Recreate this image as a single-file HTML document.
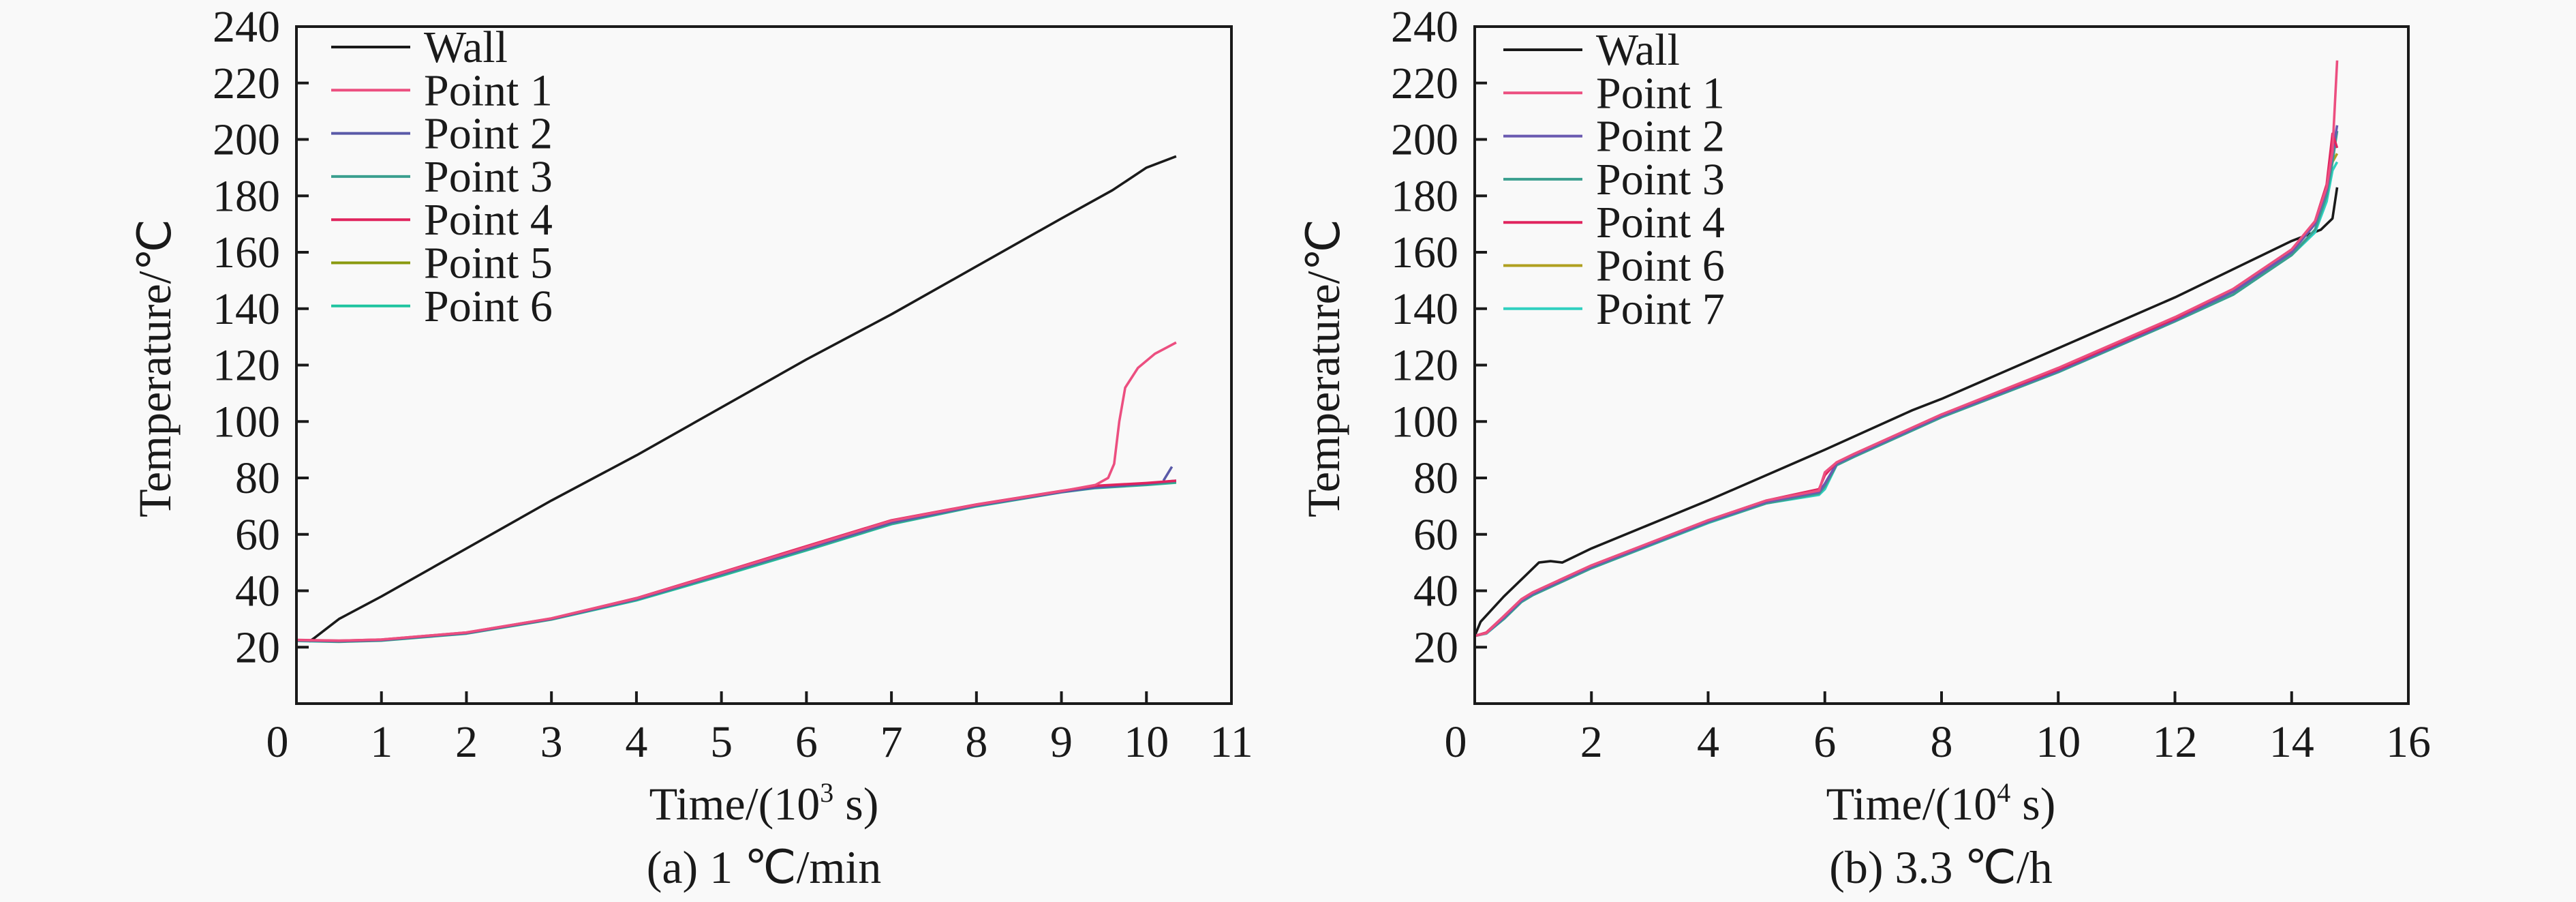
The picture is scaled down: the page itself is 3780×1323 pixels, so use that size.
<!DOCTYPE html>
<html><head><meta charset="utf-8"><style>
html,body{margin:0;padding:0;background:#f9f9f9;}
svg{display:block;}
text{font-family:"Liberation Serif","Times New Roman",serif;fill:#1a1a1a;}
</style></head><body>
<svg id="fig" width="3780" height="1323" viewBox="0 0 3780 1323" xmlns="http://www.w3.org/2000/svg" font-family="Liberation Serif, serif"></svg>
<script>
// ---- Chart (a) data: time in 10^3 s, temperature in °C ----
const aWallX = [0.15,0.2,0.5,1,2,3,4,5,6,7,8,9,9.6,10,10.35];
const aWallY = [22,23,30,38,55,72,88,105,122,138,155,172,182,190,194];
const aPtX = [0,0.5,1,2,3,4,5,6,7,8,9,9.4,10,10.35];
const aPt1Y = [22.5,22.3,22.7,25.2,30.2,37.3,46.3,55.5,64.8,70.5,75.3,77.5,78.5,79];
const aPt1TailX = [9.4,9.55,9.62,9.68,9.75,9.9,10.1,10.35];
const aPt1TailY = [77.5,80,85,100,112,119,124,128];
const aPt2Y = [22.4,22.1,22.5,25,30,37,46,55,64.2,70.2,75,76.6,78,79];
const aPt2TailX = [10.2,10.3];
const aPt2TailY = [79,84];
const aPt3Y = [22.3,22,22.4,24.9,29.9,36.8,45.6,54.6,63.8,70,75,76.5,77.6,78.5];
const aPt4Y = [22.6,22.3,22.7,25.2,30.2,37.4,46.5,55.8,65,70.6,75.4,77.2,78.2,79];
const aPt5Y = [22.4,22,22.4,24.9,29.9,36.9,45.7,54.8,64,70.1,75,76.6,77.7,78.5];
const aPt6Y = [22.2,21.9,22.3,24.8,29.8,36.6,45.3,54.3,63.6,69.9,74.9,76.4,77.5,78.3];
const aXTicks = [0,1,2,3,4,5,6,7,8,9,10,11];
// ---- Chart (b) data: time in 10^4 s ----
const bWallX = [0,0.1,0.5,0.9,1.1,1.3,1.5,2,4,6,7.5,8,10,12,13.5,14,14.5,14.7,14.78];
const bWallY = [24,29,38,46,50,50.5,50,55,72,90,104,108,126,144,159,164,168,172,183];
const bPtX = [0,0.2,0.5,0.8,1,2,4,5,5.9,6.0,6.2,6.5,8,10,12,13,14,14.4,14.6,14.7,14.78];
const bPt1Y = [24,25,31,37,39.5,49,65,72,75.5,82,85.5,88.5,102.5,119,137,147,161,171,183,196,228];
const bPt2Y = [24,25,30.5,36.5,39,48.5,64.5,71.5,75,78,85,88,102,118,136,146,160,170,182,195,205];
const bPt3Y = [24,25,30,36,38.5,48,64.2,71,74.5,77,84.5,87.5,101.5,117.5,135.5,145,159,168,180,192,203];
const bPt4Y = [24,25.2,31,37,39.5,49,65,72,76,81,85.5,88.5,102.5,118.5,136.5,147,161,171,184,202,197];
const bPt6Y = [24,25,30.5,36.5,39,48.5,64.5,71.5,75,77.5,85,88,102,118,136,146,160,170,181,192,195];
const bPt7Y = [24,24.8,30,36,38.5,48,64,71,74,76,84.5,87.5,101.5,117.5,135.5,145,159,167,178,189,192];
const bXTicks = [0,2,4,6,8,10,12,14,16];
const yTicks = [20,40,60,80,100,120,140,160,180,200,220,240];

const NS = "http://www.w3.org/2000/svg";
const svg = document.getElementById('fig');
function mk(tag, attrs, parent){const e=document.createElementNS(NS,tag);for(const k in attrs)e.setAttribute(k,attrs[k]);if(tag==='text'){e.setAttribute('font-family','Liberation Serif, serif');}(parent||svg).appendChild(e);return e;}

const Y0=1032, Y1=39;
function yS(v){return Y0-(v/240)*(Y0-Y1);}

function panel(p){
  const g=mk('g',{});
  
  
  const xS=v=>p.left+(v-p.xmin)/(p.xmax-p.xmin)*(p.right-p.left);
  p.series.forEach(s=>{
    const d=s.x.map((xv,i)=>(i?'L':'M')+xS(xv).toFixed(1)+','+yS(s.y[i]).toFixed(1)).join(' ');
    const path=mk('path',{d:d,fill:'none',stroke:s.color,'stroke-width':3.6,'stroke-linejoin':'round'},g);
    
    
  });
  const fr=mk('rect',{x:p.left,y:Y1,width:p.right-p.left,height:Y0-Y1,fill:'none',stroke:'#1a1a1a','stroke-width':4},g);
  
  
  yTicks.forEach(t=>{
    const y=yS(t);
    if(t<240) mk('line',{x1:p.left,x2:p.left+18,y1:y,y2:y,stroke:'#1a1a1a','stroke-width':4},g);
    const tx=mk('text',{x:p.left-24,y:y+22,'text-anchor':'end','font-size':66},g);
    tx.textContent=t;
    
    
  });
  p.xticks.forEach(t=>{
    const x=xS(t);
    if(t>p.xmin && t<p.xmax) mk('line',{x1:x,x2:x,y1:Y0,y2:Y0-18,stroke:'#1a1a1a','stroke-width':4},g);
    const tx=mk('text',{x:t===p.xmin?x-28:x,y:1110,'text-anchor':'middle','font-size':66},g);
    tx.textContent=t;
    
    
  });
  p.legend.forEach((l,i)=>{
    const y=p.legY+i*63.3;
    const ln=mk('line',{x1:p.legX,x2:p.legX+116,y1:y,y2:y,stroke:l[1],'stroke-width':4},g);
    
    
    const tx=mk('text',{x:p.legX+136,y:y+22,'font-size':66},g);
    tx.textContent=l[0];
    
    
  });
  const yt=mk('text',{transform:`translate(${p.ytX},540) rotate(-90)`,'text-anchor':'middle','font-size':68},g);
  yt.textContent='Temperature/℃';
  
  
  const xt=mk('text',{x:p.titleX,y:1202,'text-anchor':'middle','font-size':68},g);
  xt.innerHTML='Time/(10<tspan font-size="40" dy="-26">'+p.exp+'</tspan><tspan dy="26"> s)</tspan>';
  
  
  const cp=mk('text',{x:p.titleX,y:1295,'text-anchor':'middle','font-size':68},g);
  cp.textContent=p.caption;
  
  
}

panel({name:'chart-a',left:435,right:1807,xmin:0,xmax:11,xticks:aXTicks,legX:486,legY:69,ytX:250,titleX:1121,exp:'3',caption:'(a) 1 ℃/min',
 legend:[['Wall','#1a1a1a'],['Point 1','#ec4f80'],['Point 2','#5a5aa8'],['Point 3','#3a9f8f'],['Point 4','#e0245e'],['Point 5','#8a9a10'],['Point 6','#20c4a0']],
 series:[
  {id:'series-wall',color:'#1a1a1a',x:aWallX,y:aWallY},
  {id:'series-point-6',color:'#20c4a0',x:aPtX,y:aPt6Y},
  {id:'series-point-5',color:'#8a9a10',x:aPtX,y:aPt5Y},
  {id:'series-point-3',color:'#3a9f8f',x:aPtX,y:aPt3Y},
  {id:'series-point-2',color:'#5a5aa8',x:aPtX,y:aPt2Y},
  {id:'series-point-2-tail',color:'#5a5aa8',x:aPt2TailX,y:aPt2TailY},
  {id:'series-point-4',color:'#e0245e',x:aPtX,y:aPt4Y},
  {id:'series-point-1',color:'#ec4f80',x:aPtX.slice(0,12),y:aPt1Y.slice(0,12)},
  {id:'series-point-1-tail',color:'#ec4f80',x:aPt1TailX,y:aPt1TailY}
 ]});
panel({name:'chart-b',left:2164,right:3534,xmin:0,xmax:16,xticks:bXTicks,legX:2206,legY:73,ytX:1965,titleX:2848,exp:'4',caption:'(b) 3.3 ℃/h',
 legend:[['Wall','#1a1a1a'],['Point 1','#ec4f80'],['Point 2','#6a5ab0'],['Point 3','#3a9f8f'],['Point 4','#e0245e'],['Point 6','#b0a020'],['Point 7','#30d0c0']],
 series:[
  {id:'series-wall-b',color:'#1a1a1a',x:bWallX,y:bWallY},
  {id:'series-point-7-b',color:'#30d0c0',x:bPtX,y:bPt7Y},
  {id:'series-point-6-b',color:'#b0a020',x:bPtX,y:bPt6Y},
  {id:'series-point-3-b',color:'#3a9f8f',x:bPtX,y:bPt3Y},
  {id:'series-point-2-b',color:'#6a5ab0',x:bPtX,y:bPt2Y},
  {id:'series-point-4-b',color:'#e0245e',x:bPtX,y:bPt4Y},
  {id:'series-point-1-b',color:'#ec4f80',x:bPtX,y:bPt1Y}
 ]});
</script>
</body></html>
